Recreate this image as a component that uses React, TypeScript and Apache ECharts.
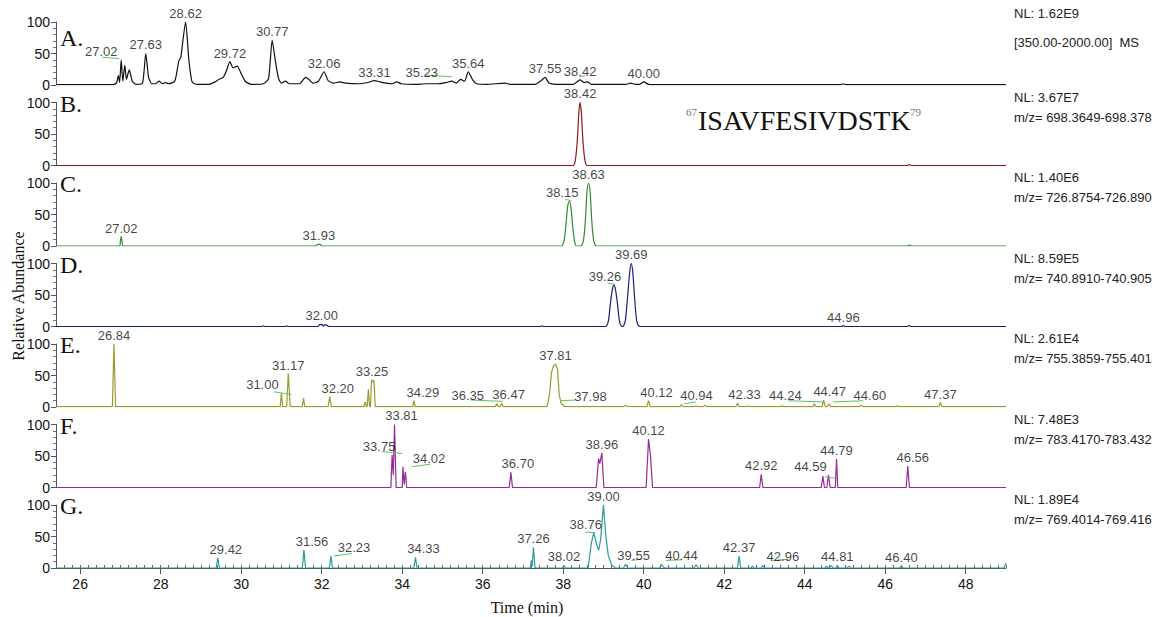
import React, { useEffect, useRef } from "react";
import * as echarts from "echarts";

// ---------- data ----------
const timeMin = 25.4;
const timeMax = 49.0;
const xTickLabels = [26, 28, 30, 32, 34, 36, 38, 40, 42, 44, 46, 48];
const yTickValues = [0, 50, 100];

const panelLetters = ["A.", "B.", "C.", "D.", "E.", "F.", "G."];
const nlTexts = ["NL: 1.62E9", "NL: 3.67E7", "NL: 1.40E6", "NL: 8.59E5", "NL: 2.61E4", "NL: 7.48E3", "NL: 1.89E4"];
const rangeTexts = [
  "[350.00-2000.00]  MS",
  "m/z= 698.3649-698.378",
  "m/z= 726.8754-726.890",
  "m/z= 740.8910-740.905",
  "m/z= 755.3859-755.401",
  "m/z= 783.4170-783.432",
  "m/z= 769.4014-769.416",
];
const traceColors = ["#111111", "#8b1c1c", "#2f8a2f", "#1c1c80", "#9c9a2e", "#962a96", "#2a9a9a"];

const traceA = [
  [25.4, 0.5], [26.8, 0.5], [26.9, 3], [26.95, 15], [26.98, 4], [27.02, 40], [27.06, 6], [27.11, 31], [27.15, 9],
  [27.22, 24], [27.3, 5], [27.4, 1], [27.55, 3], [27.63, 50], [27.7, 12], [27.78, 2], [27.88, 2], [27.96, 6],
  [28.04, 2], [28.12, 4], [28.2, 2], [28.35, 6], [28.45, 38], [28.5, 44], [28.62, 100], [28.7, 40], [28.78, 5],
  [28.9, 1], [29.2, 1], [29.35, 5], [29.45, 9], [29.55, 12], [29.63, 22], [29.72, 37], [29.8, 27], [29.9, 30],
  [30.0, 18], [30.1, 6], [30.25, 1], [30.55, 2], [30.68, 10], [30.77, 71], [30.85, 38], [30.93, 10], [31.0, 3],
  [31.1, 6], [31.2, 2], [31.45, 2], [31.6, 12], [31.68, 9], [31.78, 3], [31.92, 6], [32.06, 21], [32.16, 7],
  [32.3, 3], [32.45, 5], [32.6, 3], [32.9, 2], [33.15, 4], [33.31, 7], [33.45, 5], [33.6, 3], [33.75, 2],
  [33.86, 5], [33.98, 2], [34.3, 1], [34.6, 2], [34.9, 2], [35.1, 4], [35.23, 6], [35.35, 3], [35.45, 9],
  [35.55, 6], [35.64, 21], [35.75, 8], [35.85, 2], [36.1, 1], [36.55, 3], [36.7, 1], [37.3, 1], [37.47, 8],
  [37.55, 12], [37.65, 3], [37.8, 1], [38.25, 1], [38.42, 8], [38.52, 4], [38.6, 5], [38.7, 1], [39.55, 1],
  [39.68, 3], [39.8, 1], [39.9, 1], [40.0, 5], [40.12, 1], [40.4, 0.5], [44.9, 0.5], [44.96, 2], [45.02, 0.5],
  [49.0, 0.5],
];
const traceB = [
  [25.4, 0], [38.24, 0], [38.3, 8], [38.35, 40], [38.39, 85], [38.42, 100], [38.45, 85], [38.49, 40], [38.54, 8],
  [38.6, 0], [46.55, 0], [46.6, 1.5], [46.65, 0], [49.0, 0],
];
const traceC = [
  [25.4, 0], [26.98, 0], [27.0, 8], [27.02, 15], [27.04, 8], [27.06, 0], [31.85, 0], [31.9, 2.5], [31.93, 3],
  [31.97, 2.5], [32.0, 0], [37.95, 0], [38.02, 8], [38.07, 35], [38.11, 62], [38.15, 71], [38.19, 62], [38.23, 35],
  [38.28, 8], [38.33, 0], [38.43, 0], [38.5, 8], [38.55, 40], [38.59, 85], [38.63, 100], [38.67, 85], [38.71, 40],
  [38.76, 8], [38.83, 0], [46.55, 0], [46.6, 1.5], [46.65, 0], [49.0, 0],
];
const traceD = [
  [25.4, 0], [30.5, 0], [30.55, 1], [30.6, 0], [31.1, 0], [31.14, 1], [31.18, 0], [31.9, 0], [31.95, 3], [32.0, 3.5],
  [32.04, 0.5], [32.08, 3], [32.13, 2], [32.18, 0], [37.42, 0], [37.47, 1], [37.52, 0], [39.05, 0], [39.12, 8],
  [39.17, 35], [39.22, 58], [39.26, 66], [39.3, 58], [39.35, 35], [39.4, 8], [39.46, 0], [39.48, 0], [39.54, 8],
  [39.59, 40], [39.65, 85], [39.69, 100], [39.73, 85], [39.78, 40], [39.83, 8], [39.9, 0], [44.92, 0], [44.96, 1.5],
  [45.0, 0], [46.55, 0], [46.6, 1.5], [46.65, 0], [49.0, 0],
];
const traceE = [
  [25.4, 0.5], [26.8, 0.5], [26.82, 50], [26.84, 100], [26.86, 50], [26.88, 0.5], [30.97, 0.5], [31.0, 22],
  [31.03, 0.5], [31.13, 0.5], [31.17, 53], [31.22, 0.5], [31.52, 0.5], [31.55, 14], [31.58, 0.5], [32.16, 0.5],
  [32.2, 16], [32.24, 0.5], [33.05, 0.5], [33.08, 8], [33.11, 0.5], [33.13, 0.5], [33.16, 28], [33.19, 0.5],
  [33.21, 0.5], [33.24, 43], [33.27, 40], [33.3, 42], [33.33, 0.5], [34.26, 0.5], [34.29, 10], [34.32, 0.5],
  [36.31, 0.5], [36.35, 5], [36.39, 0.5], [36.43, 0.5], [36.47, 6], [36.51, 0.5], [37.6, 0.5], [37.66, 20],
  [37.71, 55], [37.76, 66], [37.81, 68], [37.86, 60], [37.9, 20], [37.95, 5], [38.0, 3], [38.03, 0.5], [39.5, 0.5],
  [39.55, 3], [39.6, 0.5], [40.08, 0.5], [40.12, 10], [40.16, 0.5], [40.9, 0.5], [40.94, 4], [40.98, 0.5],
  [41.26, 0.5], [41.3, 2], [41.34, 0.5], [41.48, 0.5], [41.52, 3], [41.56, 0.5], [42.29, 0.5], [42.33, 6],
  [42.37, 0.5], [42.55, 0.5], [42.59, 2], [42.63, 0.5], [43.4, 0.5], [43.44, 2], [43.48, 0.5], [44.2, 0.5],
  [44.24, 5], [44.28, 0.5], [44.43, 0.5], [44.47, 11], [44.51, 0.5], [44.56, 0.5], [44.6, 5], [44.64, 0.5],
  [45.36, 0.5], [45.4, 3], [45.44, 0.5], [46.26, 0.5], [46.3, 2], [46.34, 0.5], [47.33, 0.5], [47.37, 7],
  [47.41, 0.5], [49.0, 0.5],
];
const traceF = [
  [25.4, 0], [33.72, 0], [33.75, 52], [33.78, 20], [33.81, 100], [33.85, 0], [34.0, 0], [34.02, 33], [34.05, 5],
  [34.08, 25], [34.11, 0], [36.66, 0], [36.7, 24], [36.74, 0], [38.82, 0], [38.88, 46], [38.91, 38], [38.96, 55],
  [39.01, 0], [40.06, 0], [40.12, 77], [40.17, 50], [40.22, 0], [42.88, 0], [42.92, 21], [42.96, 0], [44.41, 0],
  [44.45, 18], [44.49, 0], [44.55, 0], [44.59, 20], [44.63, 0], [44.76, 0], [44.79, 45], [44.82, 0], [46.52, 0],
  [46.56, 34], [46.6, 0], [49.0, 0],
];
const traceG = [
  [25.4, 0], [29.38, 0], [29.42, 16], [29.46, 0], [31.52, 0], [31.56, 29], [31.6, 0], [32.19, 0], [32.23, 19],
  [32.27, 0], [34.29, 0], [34.33, 17], [34.37, 0], [37.18, 0], [37.21, 12], [37.23, 3], [37.26, 33], [37.3, 0],
  [37.98, 0], [38.02, 4], [38.06, 0], [38.62, 0], [38.7, 40], [38.76, 56], [38.82, 40], [38.88, 28], [38.93, 45],
  [39.0, 100], [39.06, 50], [39.12, 20], [39.2, 5], [39.3, 0], [39.5, 0], [39.55, 6], [39.6, 0], [40.4, 0],
  [40.44, 6], [40.48, 2], [40.52, 0], [41.25, 0], [41.3, 5], [41.35, 0], [42.33, 0], [42.37, 19], [42.41, 0],
  [42.66, 0], [42.7, 3], [42.74, 0], [42.92, 0], [42.96, 4], [43.0, 0], [44.5, 0], [44.54, 3], [44.58, 0],
  [44.62, 0], [44.66, 4], [44.7, 0], [44.77, 0], [44.81, 4], [44.85, 0], [45.05, 0], [45.1, 3], [45.15, 0],
  [46.36, 0], [46.4, 3], [46.44, 0], [48.95, 0], [49.0, 8],
];

// peak labels: [retention time, apex height]
const labelsA = [[27.02, 40], [27.63, 50], [28.62, 100], [29.72, 37], [30.77, 71], [32.06, 21], [33.31, 7], [35.23, 6], [35.64, 21], [37.55, 12], [38.42, 8], [40.0, 5]];
const labelsB = [[38.42, 100]];
const labelsC = [[27.02, 15], [31.93, 3], [38.15, 71], [38.63, 100]];
const labelsD = [[32.0, 3.5], [39.26, 66], [39.69, 100], [44.96, 1.5]];
const labelsE = [[26.84, 100], [31.0, 22], [31.17, 53], [32.2, 16], [33.25, 43], [34.29, 10], [36.35, 5], [36.47, 6], [37.81, 68], [37.98, 3], [40.12, 10], [40.94, 4], [42.33, 6], [44.24, 5], [44.47, 11], [44.6, 5], [47.37, 7]];
const labelsF = [[33.81, 100], [33.75, 52], [34.02, 33], [36.7, 24], [38.96, 55], [40.12, 77], [42.92, 21], [44.59, 20], [44.79, 45], [46.56, 34]];
const labelsG = [[29.42, 16], [31.56, 29], [32.23, 19], [34.33, 17], [37.26, 33], [38.02, 4], [38.76, 56], [39.0, 100], [39.55, 6], [40.44, 6], [42.37, 19], [42.96, 4], [44.81, 4], [46.4, 3]];

// green leader lines: [[t1, y1], [t2, y2]]
const leadersA = [[[26.55, 44], [26.97, 42]], [[34.55, 16], [35.23, 13]], [[38.4, 13], [38.55, 15]]];
const leadersC = [[[38.05, 74], [38.2, 72]]];
const leadersD = [[[39.1, 69], [39.28, 67]]];
const leadersE = [[[30.82, 24], [31.25, 20]], [[35.7, 11], [36.5, 9]], [[37.95, 10], [38.3, 11]], [[41.0, 5], [41.3, 8]], [[43.6, 10], [44.45, 8]], [[44.7, 8], [45.45, 10]]];
const leadersF = [[[33.5, 57], [34.0, 54]], [[34.25, 33], [34.7, 37]], [[44.5, 17], [44.75, 15]]];
const leadersG = [[[32.3, 19], [32.75, 23]], [[38.55, 57], [38.8, 56]], [[39.7, 12], [39.95, 14]], [[40.55, 12], [40.95, 13]], [[43.2, 12], [43.6, 14]]];

// ---------- styling ----------
const labelShift: Record<string, number> = {
  "0:27.02": -20, "0:35.23": -30,
  "2:38.15": -7, "3:39.26": -9,
  "4:31.00": -19, "4:32.20": 8, "4:34.29": 9, "4:36.35": -29, "4:36.47": 7, "4:37.98": 28, "4:40.12": 8,
  "4:40.94": 15, "4:42.33": 7, "4:44.24": -29, "4:44.47": 6, "4:44.60": 41,
  "5:33.81": 7, "5:33.75": -13, "5:34.02": 26, "5:36.70": 7, "5:44.59": -18, "5:46.56": 5,
  "6:29.42": 8, "6:31.56": 8, "6:32.23": 23, "6:34.33": 8, "6:38.76": -8, "6:39.55": 8, "6:40.44": 20, "6:42.96": 20,
};

const traces = [traceA, traceB, traceC, traceD, traceE, traceF, traceG];
const labelSets = [labelsA, labelsB, labelsC, labelsD, labelsE, labelsF, labelsG];
const leaderSets = [leadersA, [], leadersC, leadersD, leadersE, leadersF, leadersG];
const smoothing = [0.2, 0.3, 0.3, 0.3, 0, 0, 0];

const SANS = "'Liberation Sans', Arial, Helvetica, sans-serif";
const SERIF = "'Liberation Serif', 'Times New Roman', serif";
const GRID_LEFT = 56;
const GRID_RIGHT = 160;
const GRID_TOP0 = 22;
const GRID_STEP = 80.5;
const GRID_H = 63;

function buildOption() {
  const grids: any[] = [];
  const xAxes: any[] = [];
  const yAxes: any[] = [];
  const series: any[] = [];
  const graphics: any[] = [];

  for (let i = 0; i < 7; i++) {
    const top = GRID_TOP0 + i * GRID_STEP;
    grids.push({ left: GRID_LEFT, right: GRID_RIGHT, top, height: GRID_H, containLabel: false });
    const isLast = i === 6;
    xAxes.push({
      gridIndex: i,
      type: "value",
      min: timeMin,
      max: timeMax,
      show: isLast,
      axisLine: { show: true, onZero: false, lineStyle: { color: "#555", width: 1 } },
      axisTick: { show: true, customValues: xTickLabels, length: 6, lineStyle: { color: "#555" } },
      axisLabel: { show: true, customValues: xTickLabels, fontSize: 14, color: "#111", fontFamily: SANS, margin: 9 },
      splitLine: { show: false },
    });
    yAxes.push({
      gridIndex: i,
      type: "value",
      min: 0,
      max: 100,
      interval: 50,
      axisLine: { show: true, lineStyle: { color: "#555", width: 1 } },
      axisTick: { show: true, length: 5, lineStyle: { color: "#555" } },
      minorTick: { show: true, splitNumber: 5, length: 3, lineStyle: { color: "#777" } },
      axisLabel: { fontSize: 14, color: "#111", fontFamily: SANS, margin: 6, customValues: yTickValues },
      splitLine: { show: false },
      minorSplitLine: { show: false },
    });

    series.push({
      type: "line",
      xAxisIndex: i,
      yAxisIndex: i,
      data: traces[i],
      symbol: "none",
      smooth: smoothing[i],
      lineStyle: { color: traceColors[i], width: 1.2 },
      silent: true,
      z: 3,
    });

    series.push({
      type: "scatter",
      xAxisIndex: i,
      yAxisIndex: i,
      symbolSize: 0.1,
      itemStyle: { color: "transparent" },
      silent: true,
      z: 5,
      data: labelSets[i].map(([t, h]) => {
        const txt = t.toFixed(2);
        const dx = labelShift[i + ":" + txt] || 0;
        return {
          value: [t, h],
          label: { offset: [dx, 0] },
        };
      }),
      label: {
        show: true,
        position: "top",
        distance: 2,
        fontSize: 13,
        color: "#111",
        fontFamily: SANS,
        formatter: (p: any) => p.value[0].toFixed(2),
      },
      markLine: {
        silent: true,
        symbol: "none",
        label: { show: false },
        lineStyle: { color: "#5ec35e", width: 1, type: "solid" },
        data: leaderSets[i].map((seg: any) => [{ coord: seg[0] }, { coord: seg[1] }]),
      },
    });

    // panel letter
    graphics.push({
      type: "text",
      left: 60,
      top: i === 0 ? top + 4 : top - 11,
      style: { text: panelLetters[i], font: `24px ${SERIF}`, fill: "#111" },
    });
    // right-hand info
    graphics.push({
      type: "text",
      left: 1014,
      top: i === 0 ? top - 15 : top - 12,
      style: { text: nlTexts[i], font: `13px ${SANS}`, fill: "#222" },
    });
    graphics.push({
      type: "text",
      left: 1014,
      top: i === 0 ? top + 14 : top + 8,
      style: { text: rangeTexts[i], font: `13px ${SANS}`, fill: "#222" },
    });
  }

  // minor x ticks on the bottom panel
  xAxes.push({
    gridIndex: 6,
    type: "value",
    min: timeMin,
    max: timeMax,
    interval: 0.2,
    axisLine: { show: false },
    axisTick: { show: true, length: 3, lineStyle: { color: "#666" } },
    axisLabel: { show: false },
    splitLine: { show: false },
  });

  // axis titles
  graphics.push({
    type: "text",
    x: 18,
    y: 296,
    rotation: Math.PI / 2,
    style: { text: "Relative Abundance", font: `16px ${SERIF}`, fill: "#111", align: "center", verticalAlign: "middle" },
  });
  graphics.push({
    type: "text",
    x: 527,
    y: 607,
    style: { text: "Time (min)", font: `16px ${SERIF}`, fill: "#111", align: "center", verticalAlign: "middle" },
  });
  // peptide sequence
  graphics.push({
    type: "text",
    x: 686,
    y: 112,
    style: { text: "67", font: `11px ${SERIF}`, fill: "#777", align: "left", verticalAlign: "middle" },
  });
  graphics.push({
    type: "text",
    x: 698,
    y: 120,
    style: { text: "ISAVFESIVDSTK", font: `28px ${SERIF}`, fill: "#111", align: "left", verticalAlign: "middle" },
  });
  graphics.push({
    type: "text",
    x: 910,
    y: 112,
    style: { text: "79", font: `11px ${SERIF}`, fill: "#777", align: "left", verticalAlign: "middle" },
  });

  return {
    animation: false,
    backgroundColor: "#ffffff",
    grid: grids,
    xAxis: xAxes,
    yAxis: yAxes,
    series,
    graphic: graphics,
  };
}

export default function App() {
  const ref = useRef<HTMLDivElement>(null);
  useEffect(() => {
    if (!ref.current) return;
    const chart = echarts.init(ref.current, undefined, { renderer: "svg" });
    chart.setOption(buildOption() as any);
    return () => chart.dispose();
  }, []);
  return (
    <div
      ref={ref}
      style={{ position: "absolute", left: 0, top: 0, width: 1166, height: 617, background: "#fff" }}
    />
  );
}
